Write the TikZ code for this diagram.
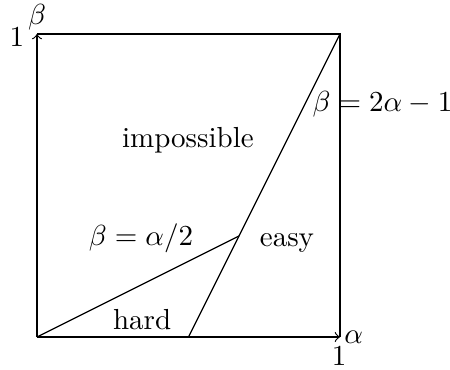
\documentclass[tikz,border=0pt]{standalone}
\begin{document}
\begin{tikzpicture}[x=104.48pt,y=104.48pt,
  lbl/.style={inner sep=0pt},
  edge/.style={line width=0.4pt}]
\useasboundingbox (-0.1221,-0.1056) rectangle (1.3630,1.1122);
\coordinate (O) at (0,0);
\coordinate (A) at (1,0);
\coordinate (B) at (0,1);
\coordinate (C) at (1,1);
\coordinate (M) at (0.5,0);
\coordinate (P) at (2/3,1/3);
\draw[edge,->] (O) -- (A);
\draw[edge,->] (O) -- (B);
\draw[edge] (B) -- (C) -- (A);
\draw[edge] (M) -- (C);
\draw[edge] (O) -- (P);
\node[lbl] (one1) at (-0.066,0.988) {$1$};
\node[lbl] (beta) at (0.000,1.055) {$\beta$};
\node[lbl] (alpha) at (1.045,0.000) {$\alpha$};
\node[lbl] (one2) at (0.997,-0.063) {$1$};
\node[lbl] (l1) at (1.140,0.769) {$\beta = 2\alpha - 1$};
\node[lbl] (imp) at (0.498,0.650) {impossible};
\node[lbl] (l2) at (0.343,0.327) {$\beta = \alpha/2$};
\node[lbl] (easy) at (0.825,0.310) {easy};
\node[lbl] (hard) at (0.347,0.056) {hard};
\end{tikzpicture}
\end{document}
